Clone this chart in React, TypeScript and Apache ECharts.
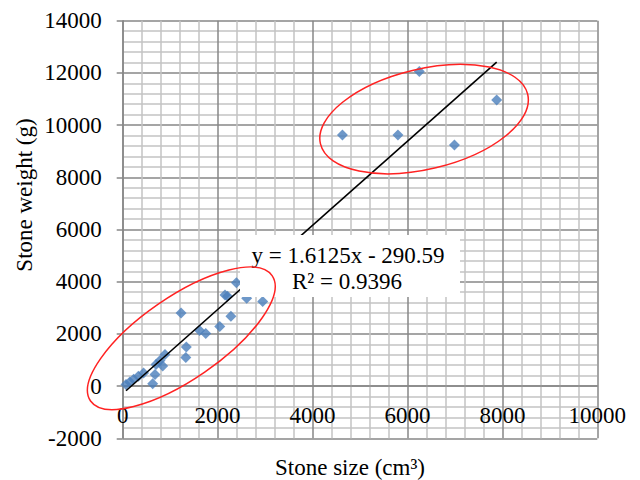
import React, { useEffect, useRef } from "react";
import * as echarts from "echarts";

// Stone size (cm3) and stone weight (g)
const sizeValues = [70, 150, 230, 330, 440, 632, 681, 702, 786, 843, 891, 1230, 1340, 1330, 1620, 1750, 2045, 2280, 2156, 2210, 2395, 2613, 2950, 4630, 5800, 6250, 6990, 7880];
const weightValues = [65, 160, 260, 380, 500, 88, 448, 831, 985, 766, 1215, 2800, 1494, 1100, 2134, 2020, 2280, 2680, 3487, 3440, 3958, 3370, 3240, 9620, 9620, 12050, 9240, 10960];

// Linear trendline
const slope = 1.6125;
const intercept = -290.59;
const rSquared = 0.9396;

const xTicks = { min: 0, max: 10000, interval: 2000 };
const yTicks = { min: -2000, max: 14000, interval: 2000 };

// Ellipse annotations (centres in data units)
const ellipseCentres = [
  [1235, 1831],
  [6350, 10230],
];

const FONT = "'Liberation Serif', 'Times New Roman', serif";

export default function App() {
  const ref = useRef<HTMLDivElement>(null);
  useEffect(() => {
    if (!ref.current) return;
    const chart = echarts.init(ref.current, undefined, { renderer: "svg" });
    const points = sizeValues.map((x, i) => [x, weightValues[i]]);
    const xmin = Math.min(...sizeValues);
    const xmax = Math.max(...sizeValues);
    const trend = [
      [xmin, slope * xmin + intercept],
      [xmax, slope * xmax + intercept],
    ];
    const axisColor = "#878787";
    const minorColor = "#c3c3c3";
    const labelStyle = {
      fontSize: 23,
      fontFamily: FONT,
      color: "#000",
      formatter: (v: number) => String(v),
    };
    const gridTop = 20.7;
    const gridBottom = 41.7;
    const plotH = 480 - gridTop - gridBottom;
    const zeroOffset = -plotH * (0 - yTicks.min) / (yTicks.max - yTicks.min);
    chart.setOption({
      animation: false,
      grid: { left: 122.7, right: 42.7, top: gridTop, bottom: gridBottom, containLabel: false },
      xAxis: {
        type: "value",
        min: xTicks.min,
        max: xTicks.max,
        interval: xTicks.interval,
        offset: zeroOffset,
        axisLine: { show: true, onZero: false, lineStyle: { color: axisColor, width: 1.5 } },
        axisTick: { show: false },
        minorTick: { show: false, splitNumber: 5 },
        axisLabel: { ...labelStyle, margin: 18 },
        splitLine: { show: true, lineStyle: { color: axisColor, width: 1.5 } },
        minorSplitLine: { show: true, lineStyle: { color: minorColor, width: 1.5 } },
      },
      yAxis: {
        type: "value",
        min: yTicks.min,
        max: yTicks.max,
        interval: yTicks.interval,
        axisLine: { show: true, onZero: false, lineStyle: { color: axisColor, width: 1.5 } },
        axisTick: { show: true, length: 6, lineStyle: { color: axisColor, width: 1.5 } },
        minorTick: { show: false, splitNumber: 5 },
        axisLabel: { ...labelStyle, margin: 21 },
        splitLine: { show: true, lineStyle: { color: axisColor, width: 1.5 } },
        minorSplitLine: { show: true, lineStyle: { color: minorColor, width: 1.5 } },
      },
      series: [
        {
          type: "scatter",
          data: points,
          symbol: "diamond",
          symbolSize: 11,
          itemStyle: { color: "#4a7ebb" },
          z: 3,
        },
        {
          type: "line",
          data: trend,
          showSymbol: false,
          symbol: "none",
          lineStyle: { color: "#000", width: 1.6 },
          z: 4,
        },
      ],
    });

    const c0 = chart.convertToPixel({ xAxisIndex: 0, yAxisIndex: 0 }, ellipseCentres[0]) as number[];
    const c1 = chart.convertToPixel({ xAxisIndex: 0, yAxisIndex: 0 }, ellipseCentres[1]) as number[];
    const deg = Math.PI / 180;
    const ellStyle = { fill: "none", stroke: "#f22", lineWidth: 1.5 };

    chart.setOption({
      graphic: [
        {
          type: "rect",
          z: 100,
          shape: { x: 240, y: 235, width: 220, height: 62 },
          style: { fill: "#fff" },
        },
        {
          type: "text",
          z: 101,
          x: 348,
          y: 255,
          style: { text: `y = ${slope}x - ${-intercept}`, font: `23px ${FONT}`, fill: "#000", align: "center", verticalAlign: "middle" },
        },
        {
          type: "text",
          z: 101,
          x: 347,
          y: 281.7,
          style: { text: `R² = ${rSquared}`, font: `23px ${FONT}`, fill: "#000", align: "center", verticalAlign: "middle" },
        },
        {
          type: "ellipse",
          z: 102,
          x: c0[0],
          y: c0[1],
          rotation: 34.6 * deg,
          shape: { cx: 0, cy: 0, rx: 110.3, ry: 41.2 },
          style: ellStyle,
        },
        {
          type: "ellipse",
          z: 102,
          x: c1[0],
          y: c1[1],
          rotation: 13.5 * deg,
          shape: { cx: 0, cy: 0, rx: 106.6, ry: 50.1 },
          style: ellStyle,
        },
        {
          type: "text",
          z: 101,
          x: 24,
          y: 195,
          rotation: 90 * deg,
          style: { text: "Stone weight (g)", font: `23px ${FONT}`, fill: "#000", align: "center", verticalAlign: "middle" },
        },
        {
          type: "text",
          z: 101,
          x: 350,
          y: 467,
          style: { text: "Stone size (cm³)", font: `23px ${FONT}`, fill: "#000", align: "center", verticalAlign: "middle" },
        },
      ],
    });
    return () => chart.dispose();
  }, []);
  return (
    <div
      ref={ref}
      style={{ position: "fixed", left: 0, top: 0, width: 640, height: 480, background: "#fff" }}
    />
  );
}
